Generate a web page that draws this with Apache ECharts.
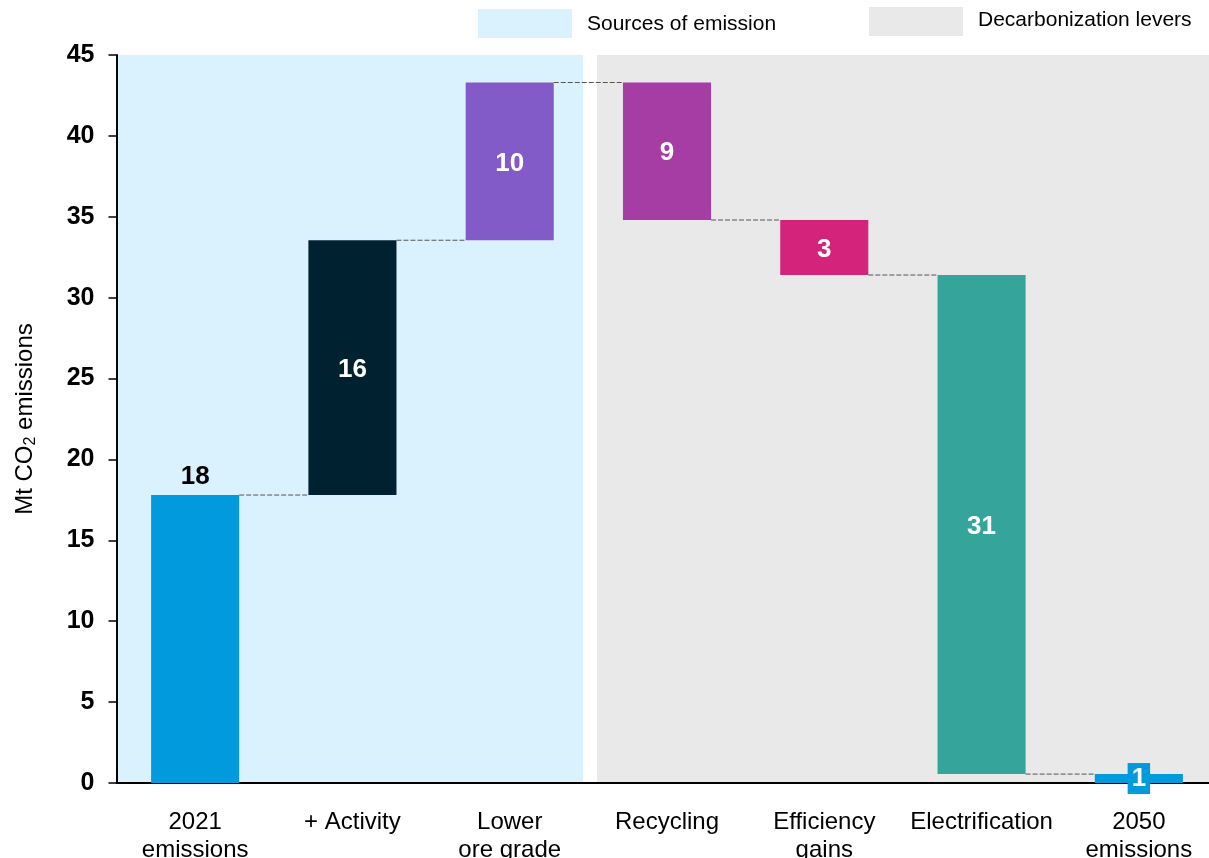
<!DOCTYPE html>
<html><head><meta charset="utf-8">
<script src="https://cdn.jsdelivr.net/npm/echarts@6/dist/echarts.min.js"></script>
<style>
html,body{margin:0;padding:0;background:#fff;overflow:hidden}
#c{width:1209px;height:858px}
</style>
</head><body><div id="c"></div>
<script>
const categories = ['2021\nemissions', '+ Activity', 'Lower\nore grade', 'Recycling', 'Efficiency\ngains', 'Electrification', '2050\nemissions'];
const barStarts = [0, 17.8, 33.55, 43.3, 34.8, 31.4, 0];
const barEnds = [17.8, 33.55, 43.3, 34.8, 31.4, 0.55, 0.55];
const valueLabels = ['18', '16', '10', '9', '3', '31', '1'];
const barColors = ['#019ADC', '#00212F', '#835BC9', '#A63DA5', '#D3237B', '#35A59B', '#019ADC'];
const yTicks = [0, 5, 10, 15, 20, 25, 30, 35, 40, 45];

const chart = echarts.init(document.getElementById('c'));
const n = categories.length;
const FONT = 'Liberation Sans, Arial, sans-serif';

chart.setOption({
  animation: false,
  textStyle: { fontFamily: FONT },
  grid: { left: 116.5, top: 55, width: 1101, height: 728, outerBoundsMode: 'none', containLabel: false },
  graphic: [
    { type: 'rect', z: -10, shape: { x: 116, y: 55, width: 467, height: 728 }, style: { fill: '#DAF2FD' } },
    { type: 'rect', z: -10, shape: { x: 597, y: 55, width: 612, height: 728 }, style: { fill: '#E9E9E9' } },
    { type: 'rect', shape: { x: 478, y: 9, width: 94, height: 29 }, style: { fill: '#DAF2FD' } },
    { type: 'text', x: 587, y: 24, style: { text: 'Sources of emission', fill: '#000', font: '21px ' + FONT, textVerticalAlign: 'middle', verticalAlign: 'middle' } },
    { type: 'rect', shape: { x: 869, y: 7, width: 94, height: 29 }, style: { fill: '#E9E9E9' } },
    { type: 'text', x: 978, y: 20, style: { text: 'Decarbonization levers', fill: '#000', font: '21px ' + FONT, textVerticalAlign: 'middle', verticalAlign: 'middle' } }
  ],
  xAxis: {
    type: 'category',
    data: categories,
    boundaryGap: true,
    axisLine: { lineStyle: { color: '#000', width: 2 } },
    axisTick: { show: false },
    axisLabel: { color: '#000', fontSize: 24, lineHeight: 28, margin: 25, fontFamily: FONT, interval: 0 }
  },
  yAxis: {
    type: 'value',
    min: 0, max: 45, interval: 5,
    name: 'Mt CO{sub|2} emissions',
    nameLocation: 'middle',
    nameRotate: 90,
    nameGap: 78,
    nameTextStyle: { color: '#000', fontSize: 24, fontFamily: FONT,
      rich: { sub: { fontSize: 16, verticalAlign: 'bottom', padding: [10, 0, 0, 0], color: '#000', fontFamily: FONT } } },
    splitLine: { show: false },
    axisLine: { show: true, lineStyle: { color: '#000', width: 2 } },
    axisTick: { show: true, length: 8, lineStyle: { color: '#000', width: 1.5 } },
    axisLabel: { color: '#000', fontSize: 25, fontWeight: 'bold', margin: 22, fontFamily: FONT,
      formatter: v => yTicks.includes(v) ? String(v) : '' }
  },
  series: [{
    type: 'custom',
    data: categories.map((c, i) => [i, barStarts[i], barEnds[i]]),
    encode: { x: 0, y: [1, 2] },
    renderItem: function (params, api) {
      const i = params.dataIndex;
      const s = api.value(1), e = api.value(2);
      const p0 = api.coord([i, s]);
      const p1 = api.coord([i, e]);
      const w = api.size([1, 0])[0] * 0.56;
      const x = p0[0] - w / 2;
      const yTop = Math.min(p0[1], p1[1]);
      const h = Math.abs(p0[1] - p1[1]);
      const children = [{ type: 'rect', shape: { x: x, y: yTop, width: w, height: h }, style: { fill: barColors[i] } }];
      if (i < n - 1) {
        const nx = api.coord([i + 1, e]);
        children.push({ type: 'line', z2: 5, shape: { x1: x + w, y1: p1[1], x2: nx[0] - w / 2, y2: p1[1] },
          style: { stroke: '#555', lineWidth: 1, lineDash: [5, 2] } });
      }
      const cx = p0[0];
      if (i === 0) {
        children.push({ type: 'text', z2: 10, x: cx, y: yTop - 18,
          style: { text: valueLabels[i], fill: '#000', font: 'bold 26px ' + FONT, align: 'center', verticalAlign: 'middle' } });
      } else if (i === n - 1) {
        children.push({ type: 'text', z2: 10, x: cx, y: yTop + h / 2,
          style: { text: valueLabels[i], fill: '#fff', font: 'bold 26px ' + FONT, align: 'center', verticalAlign: 'middle',
            backgroundColor: barColors[i], padding: [3, 4, 2, 4] } });
      } else {
        children.push({ type: 'text', z2: 10, x: cx, y: yTop + h / 2 + 2,
          style: { text: valueLabels[i], fill: '#fff', font: 'bold 26px ' + FONT, align: 'center', verticalAlign: 'middle' } });
      }
      return { type: 'group', children: children };
    }
  }]
});
</script></body></html>
